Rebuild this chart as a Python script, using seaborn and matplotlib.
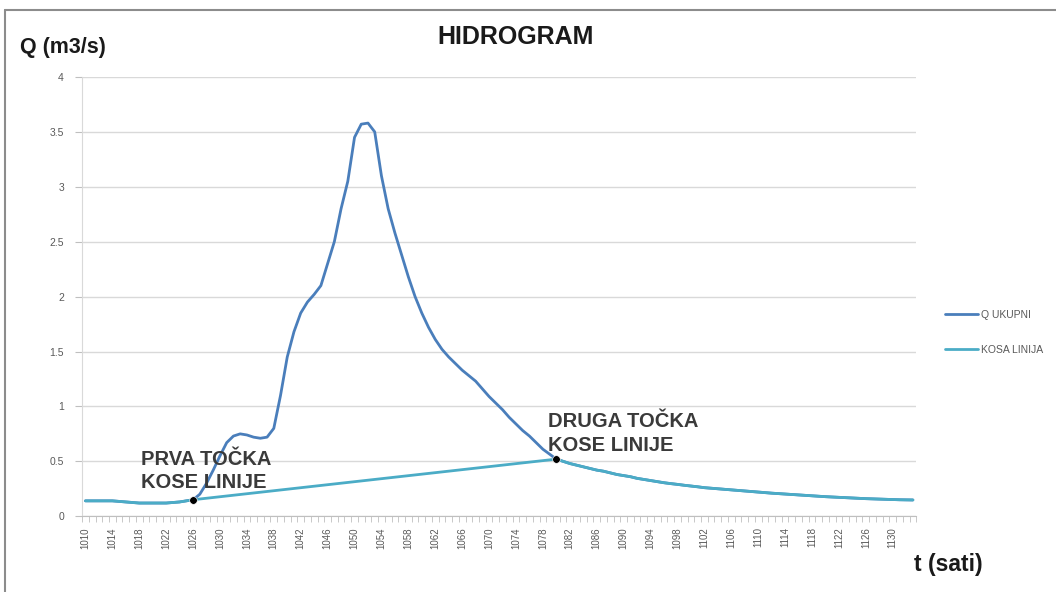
import matplotlib
matplotlib.use("Agg")
import matplotlib.pyplot as plt
import numpy as np
import pandas as pd
import seaborn as sns
from matplotlib.lines import Line2D

# time steps (labels shown every 4th step)
minutes = list(range(1010, 1134))

# Q UKUPNI, one value per time step
q_total = [
    0.14, 0.14, 0.14, 0.14, 0.14, 0.135, 0.13, 0.125, 0.12, 0.12,
    0.12, 0.12, 0.12, 0.125, 0.13, 0.14, 0.15, 0.20, 0.30, 0.42,
    0.55, 0.67, 0.73, 0.75, 0.74, 0.72, 0.71, 0.72, 0.80, 1.10,
    1.45, 1.68, 1.85, 1.95, 2.02, 2.10, 2.30, 2.50, 2.80, 3.05,
    3.45, 3.57, 3.58, 3.50, 3.10, 2.80, 2.58, 2.38, 2.18, 2.00,
    1.85, 1.72, 1.61, 1.52, 1.45, 1.39, 1.33, 1.28, 1.23, 1.16,
    1.09, 1.03, 0.97, 0.90, 0.84, 0.78, 0.73, 0.67, 0.61, 0.565,
    0.52, 0.50, 0.48, 0.465, 0.45, 0.435, 0.42, 0.41, 0.395, 0.38,
    0.37, 0.36, 0.345, 0.335, 0.325, 0.315, 0.305, 0.297, 0.29, 0.282,
    0.275, 0.268, 0.26, 0.255, 0.25, 0.245, 0.24, 0.235, 0.23, 0.225,
    0.22, 0.215, 0.21, 0.206, 0.202, 0.198, 0.194, 0.19, 0.186, 0.182,
    0.178, 0.175, 0.172, 0.169, 0.166, 0.163, 0.16, 0.158, 0.156, 0.154,
    0.152, 0.15, 0.149, 0.148,
]

# the two points of the sloped baseline
first_point = 1026
second_point = 1080

df = pd.DataFrame({"t": minutes, "Q": q_total})
# KOSA LINIJA follows Q before the first and after the second point,
# and runs straight between them
kosa = df[(df["t"] <= first_point) | (df["t"] >= second_point)]
points = df[df["t"].isin([first_point, second_point])]

sns.set_style("white")
plt.rcParams["font.family"] = ["Liberation Sans", "DejaVu Sans"]

fig = plt.figure(figsize=(10.56, 5.92), dpi=100)
ax = fig.add_axes([0.0777, 0.128, 0.79, 0.742])

sns.lineplot(data=df, x="t", y="Q", ax=ax, color="#4a7ebb", linewidth=2.0,
             label="Q UKUPNI")
sns.lineplot(data=kosa, x="t", y="Q", ax=ax, color="#4bacc6", linewidth=2.0,
             label="KOSA LINIJA")
sns.scatterplot(data=points, x="t", y="Q", ax=ax, color="black", s=30,
                zorder=5, legend=False)

ax.set_xlim(1009.5, 1133.5)
ax.set_ylim(0, 4)
ax.set_yticks(np.arange(0, 4.01, 0.5))
ax.set_yticklabels(["0", "0.5", "1", "1.5", "2", "2.5", "3", "3.5", "4"])
ax.set_xticks(minutes[::4])
ax.set_xticklabels([str(m) for m in minutes[::4]], rotation=90)
ax.set_xticks(np.arange(1009.5, 1134, 1), minor=True)
ax.tick_params(axis="x", which="major", length=0, labelsize=7,
               labelcolor="#595959", pad=8)
ax.tick_params(axis="x", which="minor", length=4, color="#bfbfbf",
               bottom=True, direction="out")
ax.tick_params(axis="y", length=5, color="#bfbfbf", labelsize=7.5,
               labelcolor="#595959", pad=8, left=True)
ax.yaxis.grid(True, color="#d9d9d9", linewidth=1)
ax.xaxis.grid(False)
for side in ["top", "right"]:
    ax.spines[side].set_visible(False)
ax.spines["left"].set_color("#d9d9d9")
ax.spines["bottom"].set_color("#bfbfbf")
ax.set_xlabel("")
ax.set_ylabel("")

fig.text(0.488, 0.938, "HIDROGRAM", ha="center", va="center",
         fontsize=18, fontweight="bold", color="#1a1a1a")
fig.text(0.019, 0.92, "Q (m3/s)", ha="left", va="center",
         fontsize=15.5, fontweight="bold", color="#1a1a1a")
fig.text(0.866, 0.047, "t (sati)", ha="left", va="center",
         fontsize=16.5, fontweight="bold", color="#1a1a1a")

ax.annotate("PRVA TOČKA\nKOSE LINIJE", xy=(1018.3, 0.22), fontsize=14.5,
            fontweight="bold", color="#3a3a3a", ha="left", va="bottom",
            linespacing=1.3)
ax.annotate("DRUGA TOČKA\nKOSE LINIJE", xy=(1078.8, 0.56), fontsize=14.5,
            fontweight="bold", color="#3a3a3a", ha="left", va="bottom",
            linespacing=1.3)

ax.legend(loc="center left", bbox_to_anchor=(0.886, 0.439),
          bbox_transform=fig.transFigure, frameon=False, fontsize=7.5,
          labelcolor="#595959", handlelength=3.2, handletextpad=0.3,
          labelspacing=2.4)

# outer frame of the chart (cropped on the right and bottom)
fig.add_artist(Line2D([0.005, 1.0], [0.983, 0.983], color="#8c8c8c",
                      linewidth=1.5, transform=fig.transFigure))
fig.add_artist(Line2D([0.005, 0.005], [0.0, 0.983], color="#8c8c8c",
                      linewidth=1.5, transform=fig.transFigure))

fig.savefig("out.png", dpi=100)
